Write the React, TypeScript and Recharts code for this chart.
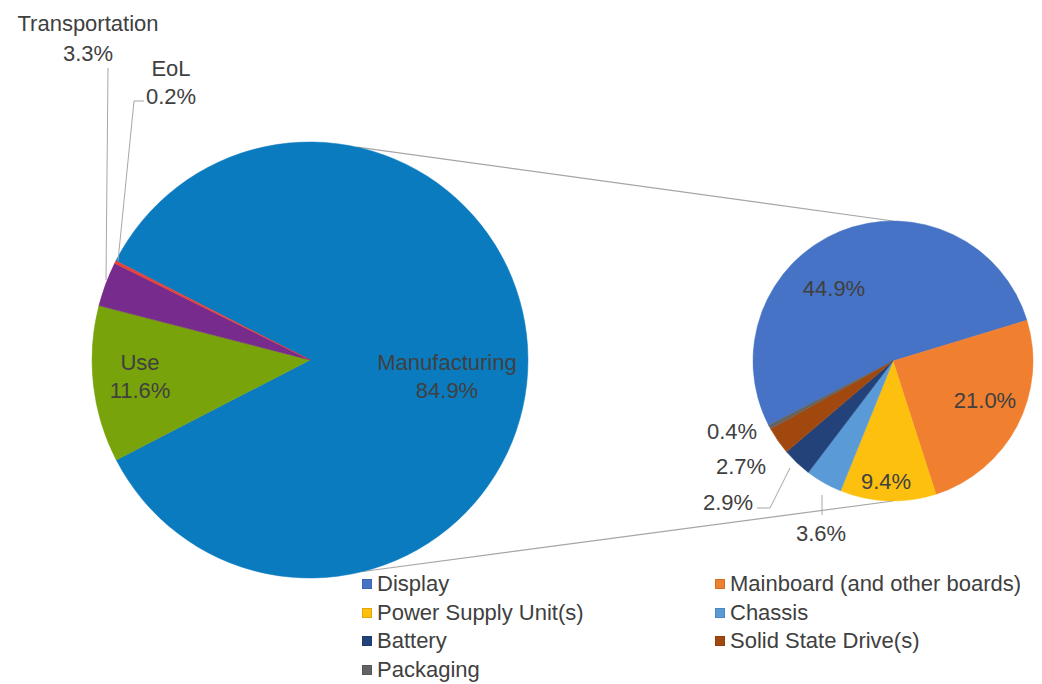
import React from 'react';
import { PieChart, Pie, Cell, Legend } from 'recharts';

const W = 1042;
const H = 684;

// Overview (life-cycle phases)
const phaseNames = ['Manufacturing', 'Use', 'Transportation', 'EoL'];
const phaseValues = [84.9, 11.6, 3.3, 0.2];
const phaseColors = ['#0B7BBF', '#78A30B', '#772B8C', '#E4433A'];

// Manufacturing breakdown (share of total)
const partNames = [
  'Display',
  'Mainboard (and other boards)',
  'Power Supply Unit(s)',
  'Chassis',
  'Battery',
  'Solid State Drive(s)',
  'Packaging',
];
const partValues = [44.9, 21.0, 9.4, 3.6, 2.9, 2.7, 0.4];
const partColors = ['#4673C5', '#F07F2F', '#FDC00F', '#5A9BD7', '#23427A', '#A1480F', '#636363'];

const phaseData = phaseNames.map((name, i) => ({ name, value: phaseValues[i] }));
const partData = partNames.map((name, i) => ({ name, value: partValues[i] }));

// geometry
const MAIN = { cx: 310, cy: 360, r: 218, start: 152.94 };
const DET = { cx: 893, cy: 361, r: 140, start: 207.3 };

const FONT = '"Liberation Sans", Arial, Helvetica, sans-serif';
const TXT = '#404040';
const LINE = '#A6A6A6';
const RAD = Math.PI / 180;

// label layout (offsets from pie centre; baselines for two-line labels)
const phaseLabelLayout = [
  { dx: 137, dy: 10, gap: 28, leader: null as null | number[][] },
  { dx: -170, dy: 10, gap: 28, leader: null as null | number[][] },
  { dx: -222, dy: -329, gap: 30, leader: [[-202, -292], [-204, -80]] },
  { dx: -139, dy: -284, gap: 28, leader: [[-166, -259], [-176, -259], [-192, -99]] },
];

const partLabelLayout = [
  { dx: -59, dy: -73, leader: null as null | number[][] },
  { dx: 92, dy: 39, leader: null as null | number[][] },
  { dx: -7, dy: 120, leader: null as null | number[][] },
  { dx: -72, dy: 172, leader: [[-71, 154], [-71, 134]] },
  { dx: -165, dy: 141, leader: [[-136, 147], [-123, 147], [-103, 107]] },
  { dx: -152, dy: 105, leader: null as null | number[][] },
  { dx: -161, dy: 70, leader: null as null | number[][] },
];

const fmt = (v: number) => `${v.toFixed(1)}%`;

const renderPhaseLabel = (props: any) => {
  const { cx, cy, index, name, value } = props;
  const L = phaseLabelLayout[index];
  const x = cx + L.dx;
  const y = cy + L.dy;
  return (
    <g key={`pl-${index}`}>
      {L.leader && (
        <polyline
          points={L.leader.map((p) => `${cx + p[0]},${cy + p[1]}`).join(' ')}
          fill="none"
          stroke={LINE}
          strokeWidth={1}
        />
      )}
      <text x={x} y={y} textAnchor="middle" fill={TXT} fontSize={22} fontFamily={FONT}>
        {name}
      </text>
      <text x={x} y={y + L.gap} textAnchor="middle" fill={TXT} fontSize={22} fontFamily={FONT}>
        {fmt(value)}
      </text>
    </g>
  );
};

const renderPartLabel = (props: any) => {
  const { cx, cy, index, value } = props;
  const L = partLabelLayout[index];
  return (
    <g key={`dl-${index}`}>
      {L.leader && (
        <polyline
          points={L.leader.map((p) => `${cx + p[0]},${cy + p[1]}`).join(' ')}
          fill="none"
          stroke={LINE}
          strokeWidth={1}
        />
      )}
      <text
        x={cx + L.dx}
        y={cy + L.dy}
        textAnchor="middle"
        dominantBaseline="central"
        fill={TXT}
        fontSize={22}
        fontFamily={FONT}
      >
        {fmt(value)}
      </text>
    </g>
  );
};

const LegendContent = () => (
  <div
    style={{
      display: 'grid',
      gridTemplateColumns: '353px 330px',
      rowGap: 0,
      fontFamily: FONT,
      fontSize: 22,
      color: TXT,
    }}
  >
    {partNames.map((n, i) => (
      <div key={n} style={{ display: 'flex', alignItems: 'center', height: 28.5, whiteSpace: 'nowrap' }}>
        <span
          style={{
            display: 'inline-block',
            width: 10,
            height: 10,
            background: partColors[i],
            marginRight: 5,
            boxShadow: 'inset 0 0 0 1px rgba(0,0,0,0.12)',
          }}
        />
        {n}
      </div>
    ))}
  </div>
);

const polar = (cx: number, cy: number, r: number, a: number) => ({
  x: cx + r * Math.cos(-a * RAD),
  y: cy + r * Math.sin(-a * RAD),
});

export default function App() {
  const topA = polar(MAIN.cx, MAIN.cy, MAIN.r, 77.5);
  const botA = polar(MAIN.cx, MAIN.cy, MAIN.r, -76);
  return (
    <div style={{ position: 'absolute', left: 0, top: 0, width: W, height: H, background: '#fff' }}>
      <svg
        width={W}
        height={H}
        style={{ position: 'absolute', left: 0, top: 0, pointerEvents: 'none' }}
      >
        <line x1={topA.x} y1={topA.y} x2={DET.cx} y2={DET.cy - DET.r} stroke={LINE} strokeWidth={1.2} />
        <line x1={botA.x} y1={botA.y} x2={DET.cx} y2={DET.cy + DET.r} stroke={LINE} strokeWidth={1.2} />
      </svg>
      <div style={{ position: 'absolute', left: 0, top: 0 }}>
        <PieChart width={W} height={H} margin={{ top: 0, right: 0, bottom: 0, left: 0 }}>
          <Pie
            data={phaseData}
            dataKey="value"
            nameKey="name"
            cx={MAIN.cx}
            cy={MAIN.cy}
            outerRadius={MAIN.r}
            startAngle={MAIN.start}
            endAngle={MAIN.start - 360}
            isAnimationActive={false}
            label={renderPhaseLabel}
            labelLine={false}
            stroke="none"
          >
            {phaseData.map((d, i) => (
              <Cell key={d.name} fill={phaseColors[i]} stroke={phaseColors[i]} strokeWidth={0.5} />
            ))}
          </Pie>
          <Pie
            data={partData}
            dataKey="value"
            nameKey="name"
            cx={DET.cx}
            cy={DET.cy}
            outerRadius={DET.r}
            startAngle={DET.start}
            endAngle={DET.start - 360}
            isAnimationActive={false}
            label={renderPartLabel}
            labelLine={false}
            stroke="none"
          >
            {partData.map((d, i) => (
              <Cell key={d.name} fill={partColors[i]} stroke={partColors[i]} strokeWidth={0.5} />
            ))}
          </Pie>
          <Legend
            content={<LegendContent />}
            wrapperStyle={{ position: 'absolute', left: 362, top: 570, width: 680, height: 114 }}
          />
        </PieChart>
      </div>
    </div>
  );
}
